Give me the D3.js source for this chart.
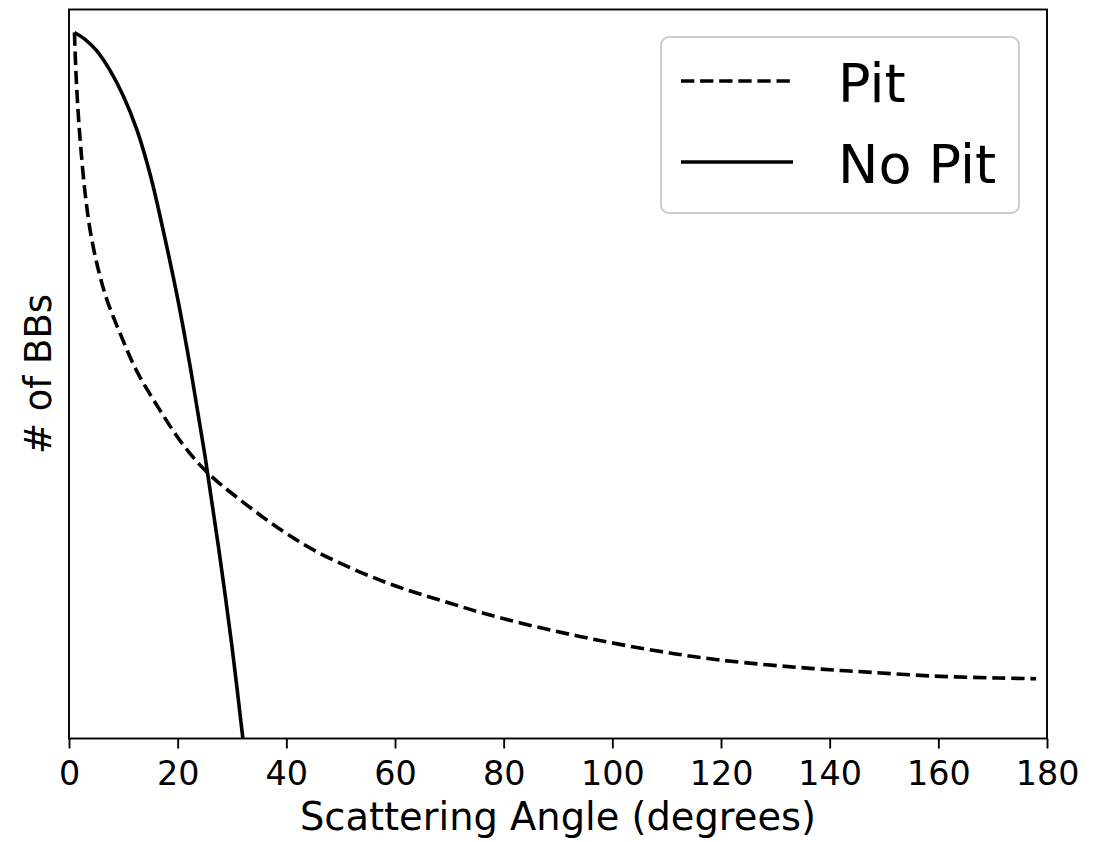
<!DOCTYPE html>
<html>
<head>
<meta charset="utf-8">
<script src="https://cdn.jsdelivr.net/npm/d3@7/dist/d3.min.js"></script>
<style>
  html, body { margin: 0; padding: 0; background: #fff; }
  svg { display: block; }
  text { font-family: "DejaVu Sans", sans-serif; fill: #000; }
</style>
</head>
<body>
<svg id="chart" width="1100" height="842"></svg>
<script>
// ---- Data (y in arbitrary normalised units) ----
const anglePit = [1, 1.3, 1.7, 2.2, 3, 4, 5.5, 7, 9.5, 12.5, 16.5, 21, 25.3, 31.5, 39.5, 45.5, 52, 58, 64, 70, 76, 84, 95, 107.5, 120, 137, 147, 159, 171, 178];
const countPit = [1.0, 0.94, 0.885, 0.834, 0.77, 0.715, 0.661, 0.621, 0.572, 0.52, 0.468, 0.416, 0.378, 0.338, 0.293, 0.265, 0.241, 0.222, 0.206, 0.192, 0.178, 0.162, 0.143, 0.125, 0.111, 0.099, 0.094, 0.0885, 0.0857, 0.0847];

const angleNoPit = [1, 3, 5, 7.5, 10, 12.5, 15, 17.5, 20, 22.5, 25, 27.5, 30, 32];
const countNoPit = [1.0, 0.99, 0.975, 0.947, 0.91, 0.862, 0.797, 0.714, 0.623, 0.518, 0.402, 0.272, 0.13, 0.0];

const xTicks = [0, 20, 40, 60, 80, 100, 120, 140, 160, 180];
const seriesNames = ["Pit", "No Pit"];
const xLabel = "Scattering Angle (degrees)";
const yLabel = "# of BBs";

// ---- Layout ----
const plot = { left: 69, right: 1047, top: 9.5, bottom: 738.5 };
const svg = d3.select("#chart");

const x = d3.scaleLinear().domain([0, 180]).range([plot.left, plot.right]);
const y = d3.scaleLinear().domain([0, 1.0326]).range([plot.bottom, plot.top]);

svg.append("defs").append("clipPath").attr("id", "clip")
  .append("rect")
  .attr("x", plot.left).attr("y", plot.top)
  .attr("width", plot.right - plot.left).attr("height", plot.bottom - plot.top);

const line = d3.line()
  .x(d => x(d[0]))
  .y(d => y(d[1]))
  .curve(d3.curveCatmullRom.alpha(0.5));

const pitData = anglePit.map((a, i) => [a, countPit[i]]);
const noPitData = angleNoPit.map((a, i) => [a, countNoPit[i]]);

const lw = 3.6;
const dash = "13.3,5.8";

const g = svg.append("g").attr("clip-path", "url(#clip)");
g.append("path").datum(pitData)
  .attr("d", line).attr("fill", "none").attr("stroke", "#000")
  .attr("stroke-width", lw).attr("stroke-dasharray", dash);
g.append("path").datum(noPitData)
  .attr("d", line).attr("fill", "none").attr("stroke", "#000")
  .attr("stroke-width", lw).attr("stroke-linecap", "butt");

// ---- Axis ----
const xAxis = d3.axisBottom(x).tickValues(xTicks).tickSize(10).tickPadding(13)
  .tickFormat(d3.format("d"));
const ax = svg.append("g").attr("transform", `translate(0,${plot.bottom})`).call(xAxis);
ax.select(".domain").remove();
ax.selectAll(".tick line").attr("stroke", "#000").attr("stroke-width", 1.9);
ax.selectAll(".tick text").attr("font-size", 33.4).attr("font-family", "DejaVu Sans");

// spines
svg.append("rect")
  .attr("x", plot.left).attr("y", plot.top)
  .attr("width", plot.right - plot.left).attr("height", plot.bottom - plot.top)
  .attr("fill", "none").attr("stroke", "#000").attr("stroke-width", 1.9);

// axis labels
svg.append("text")
  .attr("x", (plot.left + plot.right) / 2).attr("y", 830)
  .attr("text-anchor", "middle").attr("font-size", 38.4)
  .text(xLabel);

svg.append("text")
  .attr("transform", `translate(51,${(plot.top + plot.bottom) / 2}) rotate(-90)`)
  .attr("text-anchor", "middle").attr("font-size", 37)
  .text(yLabel);

// ---- Legend ----
const leg = svg.append("g");
leg.append("rect")
  .attr("x", 661).attr("y", 37).attr("width", 358).attr("height", 176)
  .attr("rx", 8).attr("ry", 8)
  .attr("fill", "#fff").attr("fill-opacity", 0.8)
  .attr("stroke", "#cccccc").attr("stroke-width", 2);

const legRows = [
  { name: seriesNames[0], dash: dash, ly: 81 },
  { name: seriesNames[1], dash: null, ly: 162 }
];
legRows.forEach(r => {
  const l = leg.append("line")
    .attr("x1", 681).attr("x2", 793).attr("y1", r.ly).attr("y2", r.ly)
    .attr("stroke", "#000").attr("stroke-width", lw);
  if (r.dash) l.attr("stroke-dasharray", r.dash);
  leg.append("text")
    .attr("x", 838).attr("y", r.ly + 20.5)
    .attr("font-size", 54)
    .text(r.name);
});
</script>
</body>
</html>
